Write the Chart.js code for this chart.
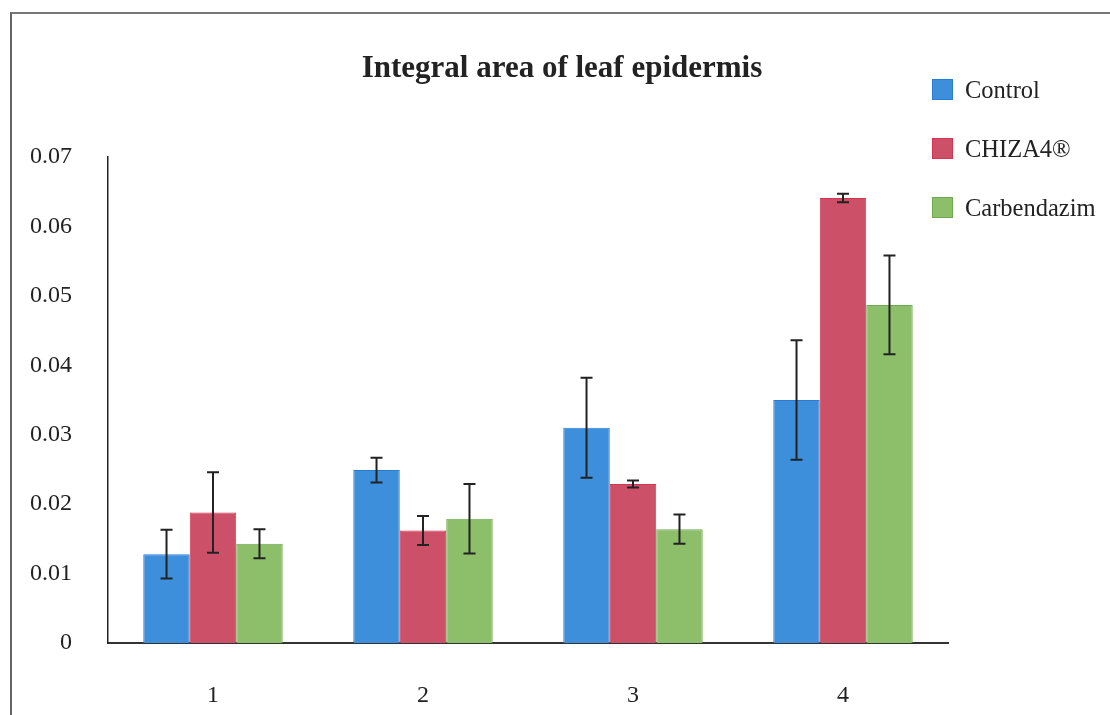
<!DOCTYPE html>
<html>
<head>
<meta charset="utf-8">
<script src="https://cdn.jsdelivr.net/npm/chart.js@4.4.0/dist/chart.umd.min.js"></script>
<style>
  body { margin: 0; background: #fff; width: 1110px; height: 715px; overflow: hidden; position: relative; }
  #frame { position: absolute; left: 10px; top: 12px; width: 1200px; height: 800px;
           border-left: 2px solid #666; border-top: 2px solid #777; }
  #wrap { position: absolute; left: 0; top: 0; width: 1110px; height: 715px; }
  #title { position: absolute; left: 0; width: 1124px; top: 49px; text-align: center;
           font: bold 31px "Liberation Serif", serif; color: #222; }
  #legend { position: absolute; left: 932px; top: 76px; font: 24.5px "Liberation Serif", serif; color: #222; }
  .item { height: 59px; display: flex; align-items: flex-start; }
  .sw { width: 21px; height: 21px; margin-right: 12px; margin-top: 3px; box-sizing: border-box; }
</style>
</head>
<body>
<div id="frame"></div>
<div id="wrap"><canvas id="chart"></canvas></div>
<div id="title">Integral area of leaf epidermis</div>
<div id="legend"></div>
<script>
var categories = ["1", "2", "3", "4"];
var seriesNames = ["Control", "CHIZA4\u00ae", "Carbendazim"];
var control = [0.0128, 0.0249, 0.0310, 0.0350];
var chiza = [0.0188, 0.0162, 0.0229, 0.0641];
var carbendazim = [0.0143, 0.0179, 0.0164, 0.0487];
var controlErr = [0.0035, 0.0018, 0.0072, 0.0086];
var chizaErr = [0.0058, 0.0021, 0.0005, 0.0006];
var carbendazimErr = [0.0021, 0.0050, 0.0021, 0.0071];
var yTicks = [0, 0.01, 0.02, 0.03, 0.04, 0.05, 0.06, 0.07];

var fills = ["#3d8fdc", "#cc5068", "#8dbf6a"];
var edges = ["#2a7cd0", "#d8324f", "#6ea84f"];

// error bars drawn through the y scale
var errorBars = {
  id: "errorBars",
  afterDatasetsDraw: function(chart) {
    var ctx = chart.ctx;
    var y = chart.scales.y;
    ctx.save();
    ctx.strokeStyle = "#222";
    ctx.lineWidth = 2;
    chart.data.datasets.forEach(function(ds, i) {
      var meta = chart.getDatasetMeta(i);
      meta.data.forEach(function(bar, j) {
        var v = ds.data[j], e = ds.errors[j];
        var top = y.getPixelForValue(v + e);
        var bot = y.getPixelForValue(v - e);
        var x = bar.x;
        ctx.beginPath();
        ctx.moveTo(x, top); ctx.lineTo(x, bot);
        ctx.moveTo(x - 6, top); ctx.lineTo(x + 6, top);
        ctx.moveTo(x - 6, bot); ctx.lineTo(x + 6, bot);
        ctx.stroke();
      });
    });
    ctx.restore();
  }
};

var values = [control, chiza, carbendazim];
var errs = [controlErr, chizaErr, carbendazimErr];

var ctx = document.getElementById("chart").getContext("2d");
var chart = new Chart(ctx, {
  type: "bar",
  data: {
    labels: categories,
    datasets: seriesNames.map(function(name, i) {
      return {
        label: name,
        data: values[i],
        errors: errs[i],
        backgroundColor: fills[i],
        borderColor: edges[i],
        borderWidth: 1,
        barPercentage: 1,
        categoryPercentage: 0.664
      };
    })
  },
  options: {
    responsive: true,
    maintainAspectRatio: false,
    animation: false,
    layout: { padding: { top: 157, right: 162, left: 0, bottom: 0 } },
    plugins: { legend: { display: false }, tooltip: { enabled: false } },
    scales: {
      x: {
        grid: { display: false, drawTicks: false },
        border: { display: true, color: "#333", width: 2 },
        ticks: { padding: 38, color: "#222", font: { family: "Liberation Serif", size: 24 } },
        afterFit: function(s) { s.height = 72; }
      },
      y: {
        min: 0, max: 0.07,
        afterBuildTicks: function(s) { s.ticks = yTicks.map(function(v) { return { value: v }; }); },
        grid: { display: false, drawTicks: false },
        border: { display: true, color: "#222", width: 1.5 },
        ticks: {
          padding: 36, color: "#222",
          font: { family: "Liberation Serif", size: 24 },
          callback: function(v) { return v === 0 ? "0" : v.toFixed(2); }
        },
        afterFit: function(s) { s.width = 108; }
      }
    }
  },
  plugins: [errorBars]
});

var legend = document.getElementById("legend");
seriesNames.forEach(function(name, i) {
  var item = document.createElement("div");
  item.className = "item";
  item.innerHTML = '<div class="sw" style="background:' + fills[i] + ';border:1px solid ' + edges[i] + '"></div><span>' + name + '</span>';
  legend.appendChild(item);
});
</script>
</body>
</html>
